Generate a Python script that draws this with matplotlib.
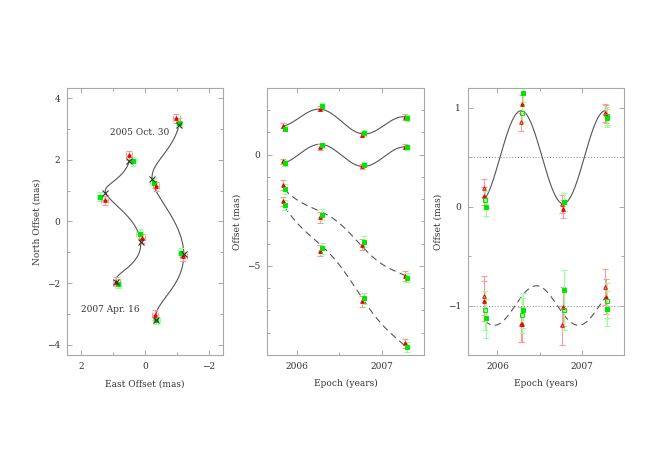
import numpy as np
import matplotlib.pyplot as plt
from matplotlib.ticker import MultipleLocator

plt.rcParams['font.family'] = ['DejaVu Serif']
plt.rcParams['font.size'] = 6.5

# epochs of the four observations (years)
epochs = np.array([2005.85, 2006.29, 2006.78, 2007.29])

# offsets (mas) of the two spots, red and green measurements
ra_a_red = [1.31, 2.07, 0.90, 1.70]
ra_a_green = [1.17, 2.20, 0.97, 1.65]
ra_b_red = [-0.30, 0.35, -0.52, 0.37]
ra_b_green = [-0.37, 0.42, -0.45, 0.33]
dec_a_red = [-1.35, -2.81, -4.05, -5.45]
dec_a_green = [-1.55, -2.69, -3.90, -5.52]
dec_b_red = [-2.10, -4.31, -6.58, -8.48]
dec_b_green = [-2.25, -4.20, -6.46, -8.63]

ra_err = [0.10, 0.10, 0.10, 0.10]
ra_err_mid = [0.12, 0.12, 0.12, 0.12]
dec_err_mid = [0.22, 0.25, 0.25, 0.22]
dec_err_left = [0.15, 0.15, 0.15, 0.15]

# shifts applied to the spots in the sky plane panel
shift_a = (-0.80, 3.50)
shift_b = (-0.69, 5.45)

# parallax-only residuals (right panel)
par_ra_red = [0.11, 1.04, -0.02, 0.94]
par_ra_red_open = [0.19, 0.86, 0.03, 0.95]
par_ra_green = [0.00, 1.145, 0.045, 0.90]
par_ra_green_open = [0.07, 0.95, 0.05, 0.92]
par_dec_red = [-0.955, -1.19, -1.01, -0.91]
par_dec_red_open = [-0.90, -1.19, -1.20, -0.81]
par_dec_green = [-1.13, -1.05, -0.84, -1.03]
par_dec_green_open = [-1.05, -1.10, -1.05, -0.95]
par_ra_err = [0.09, 0.09, 0.09, 0.09]
par_dec_err = [0.20, 0.18, 0.20, 0.18]

# fitted model: parallax + linear motion
T_REF = 2006.55
PAR_RA, T_RA = 0.47, 2006.28
PAR_DEC, T_DEC = 0.20, 2005.96
spot_a = dict(ra0=1.484, mu_ra=-0.34, dec0=-3.41, mu_dec=-2.885)
spot_b = dict(ra0=-0.032, mu_ra=-0.114, dec0=-5.36, mu_dec=-4.56)


def ra_par(t):
    return PAR_RA * np.cos(2 * np.pi * (t - T_RA))


def dec_par(t):
    return -PAR_DEC * np.cos(2 * np.pi * (t - T_DEC))


def model(t, s):
    ra = s['ra0'] + s['mu_ra'] * (t - T_REF) + ra_par(t)
    dec = s['dec0'] + s['mu_dec'] * (t - T_REF) + dec_par(t)
    return ra, dec


RED, RED_L = '#ee0000', '#ff9a9a'
GRN, GRN_L = '#00e600', '#99ff99'
LINE = '#555555'
FRAME = '#a8a8a8'
TXT = '#333333'


def style(ax):
    for sp in ax.spines.values():
        sp.set_color(FRAME)
        sp.set_linewidth(0.8)
    ax.tick_params(which='both', direction='in', top=True, right=True,
                   color=FRAME, labelcolor=TXT, width=0.7, pad=5)
    ax.tick_params(which='major', length=3.5)
    ax.tick_params(which='minor', length=2)


def pts(ax, x, y, yerr, ecol, col, marker, xerr=None, filled=True, ms=2.6):
    ax.errorbar(x, y, yerr=yerr, xerr=xerr, fmt='none', ecolor=ecol,
                elinewidth=0.8, capsize=2, capthick=0.8, zorder=2)
    ax.plot(x, y, linestyle='none', marker=marker, ms=ms,
            mfc=col if filled else 'none', mec=col, mew=0.7, zorder=3)


fig = plt.figure(figsize=(6.67, 4.66), dpi=100)
ax1 = fig.add_axes([0.1004, 0.2382, 0.2339, 0.5730])
ax2 = fig.add_axes([0.4003, 0.2382, 0.2354, 0.5730])
ax3 = fig.add_axes([0.7016, 0.2382, 0.2339, 0.5730])

t = np.linspace(epochs[0], epochs[-1], 300)
dt = 0.012

# ---- left: sky plane
for s, sh, rr, rg, dr, dg in [(spot_a, shift_a, ra_a_red, ra_a_green, dec_a_red, dec_a_green),
                              (spot_b, shift_b, ra_b_red, ra_b_green, dec_b_red, dec_b_green)]:
    ra, dec = model(t, s)
    ax1.plot(ra + sh[0], dec + sh[1], color=LINE, lw=0.8, zorder=1)
    rae, dece = model(epochs, s)
    pts(ax1, np.array(rg) + sh[0], np.array(dg) + sh[1], dec_err_left, GRN_L, GRN, 's',
        xerr=ra_err, ms=3)
    pts(ax1, np.array(rr) + sh[0], np.array(dr) + sh[1], dec_err_left, RED_L, RED, '^',
        xerr=ra_err)
    ax1.plot(rae + sh[0], dece + sh[1], linestyle='none', marker='x', ms=4.5,
             mew=0.8, color='#333333', zorder=4)

ax1.text(0.17, 2.87, '2005 Oct. 30', ha='center', va='center', color=TXT)
ax1.text(1.09, -2.86, '2007 Apr. 16', ha='center', va='center', color=TXT)
ax1.set_xlim(2.45, -2.45)
ax1.set_ylim(-4.33, 4.33)
ax1.xaxis.set_major_locator(MultipleLocator(2))
ax1.xaxis.set_minor_locator(MultipleLocator(1))
ax1.yaxis.set_major_locator(MultipleLocator(2))
ax1.yaxis.set_minor_locator(MultipleLocator(1))
ax1.set_xlabel('East Offset (mas)', color=TXT, labelpad=6)
ax1.set_ylabel('North Offset (mas)', color=TXT, labelpad=4)
style(ax1)

# ---- middle: offsets vs time
for s, rr, rg, dr, dg in [(spot_a, ra_a_red, ra_a_green, dec_a_red, dec_a_green),
                          (spot_b, ra_b_red, ra_b_green, dec_b_red, dec_b_green)]:
    ra, dec = model(t, s)
    ax2.plot(t, ra, color=LINE, lw=0.8, zorder=1)
    ax2.plot(t, dec, color=LINE, lw=0.8, dashes=(6, 4), zorder=1)
    pts(ax2, epochs - dt, rr, ra_err_mid, RED_L, RED, '^')
    pts(ax2, epochs + dt, rg, ra_err_mid, GRN_L, GRN, 's', ms=3)
    pts(ax2, epochs - dt, dr, dec_err_mid, RED_L, RED, '^')
    pts(ax2, epochs + dt, dg, dec_err_mid, GRN_L, GRN, 's', ms=3)

ax2.set_xlim(2005.65, 2007.5)
ax2.set_ylim(-9, 3)
ax2.xaxis.set_major_locator(MultipleLocator(1))
ax2.xaxis.set_minor_locator(MultipleLocator(0.5))
ax2.yaxis.set_major_locator(MultipleLocator(5))
ax2.yaxis.set_minor_locator(MultipleLocator(1))
ax2.set_xlabel('Epoch (years)', color=TXT, labelpad=6)
ax2.set_ylabel('Offset (mas)', color=TXT, labelpad=4)
style(ax2)

# ---- right: parallax only
ax3.axhline(0.5, color='#888888', lw=0.7, linestyle=(0, (1, 2)), zorder=0)
ax3.axhline(-1.0, color='#888888', lw=0.7, linestyle=(0, (1, 2)), zorder=0)
ax3.plot(t, 0.5 + ra_par(t), color=LINE, lw=0.8, zorder=1)
ax3.plot(t, -1.0 + dec_par(t), color=LINE, lw=0.8, dashes=(6, 4), zorder=1)
for ys, err in [((par_ra_red, par_ra_red_open, par_ra_green, par_ra_green_open), par_ra_err),
                ((par_dec_red, par_dec_red_open, par_dec_green, par_dec_green_open), par_dec_err)]:
    pts(ax3, epochs - 0.012, ys[1], err, RED_L, RED, '^', filled=False)
    pts(ax3, epochs - 0.004, ys[0], err, RED_L, RED, '^')
    pts(ax3, epochs + 0.004, ys[3], err, GRN_L, GRN, 's', filled=False, ms=3)
    pts(ax3, epochs + 0.012, ys[2], err, GRN_L, GRN, 's', ms=3)

ax3.set_xlim(2005.65, 2007.5)
ax3.set_ylim(-1.5, 1.2)
ax3.xaxis.set_major_locator(MultipleLocator(1))
ax3.xaxis.set_minor_locator(MultipleLocator(0.5))
ax3.yaxis.set_major_locator(MultipleLocator(1))
ax3.yaxis.set_minor_locator(MultipleLocator(0.5))
ax3.set_xlabel('Epoch (years)', color=TXT, labelpad=6)
ax3.set_ylabel('Offset (mas)', color=TXT, labelpad=4)
style(ax3)

fig.savefig('out.png', dpi=100)
